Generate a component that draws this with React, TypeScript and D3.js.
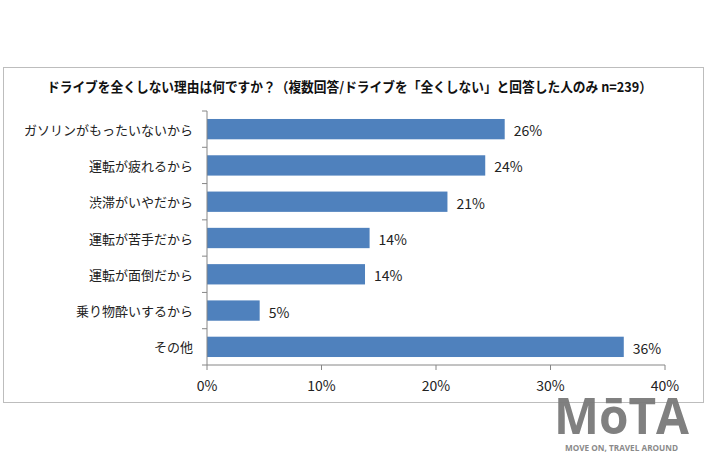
import React from "react";
import * as d3 from "d3";

const categories = [
  "ガソリンがもったいないから",
  "運転が疲れるから",
  "渋滞がいやだから",
  "運転が苦手だから",
  "運転が面倒だから",
  "乗り物酔いするから",
  "その他",
];
const values = [26.0, 24.3, 21.0, 14.2, 13.8, 4.6, 36.4];
const valueLabels = ["26%", "24%", "21%", "14%", "14%", "5%", "36%"];
const xTicks = [0, 10, 20, 30, 40];
const title =
  "ドライブを全くしない理由は何ですか？（複数回答/ドライブを「全くしない」と回答した人のみ n=239）";

const FONT = "'Noto Sans CJK JP', 'Noto Sans', sans-serif";

export default function App() {
  const x = d3.scaleLinear().domain([0, 40]).range([207, 665]);
  const y = d3
    .scaleBand<string>()
    .domain(categories)
    .range([111, 365])
    .paddingInner(0.44)
    .paddingOuter(0.22);
  const bandTicks = d3.range(categories.length + 1).map(
    (i) => 111 + (i * (365 - 111)) / categories.length
  );
  const axisColor = "#868686";
  return (
    <svg
      width={710}
      height={473}
      style={{ position: "absolute", left: 0, top: 0, background: "#fff" }}
      fontFamily={FONT}
    >
      <rect x={0} y={0} width={710} height={473} fill="#fff" />
      <rect x={3.5} y={67.5} width={700} height={335} fill="#fff" stroke="#bdbdbd" strokeWidth={1} />
      <text
        x={47}
        y={92}
        fontSize={13.5}
        fontWeight="bold"
        fill="#111"
        textLength={605}
        lengthAdjust="spacingAndGlyphs"
      >
        {title}
      </text>
      {categories.map((c, i) => (
        <g key={c}>
          <rect
            x={x(0)}
            y={y(c)!}
            width={x(values[i]) - x(0)}
            height={y.bandwidth()}
            fill="#4f81bd"
          />
          <text
            x={193}
            y={y(c)! + y.bandwidth() / 2}
            textAnchor="end"
            dominantBaseline="central"
            fontSize={13}
            fill="#222"
          >
            {c}
          </text>
          <text
            x={x(values[i]) + 9}
            y={y(c)! + y.bandwidth() / 2 + 1}
            dominantBaseline="central"
            fontSize={14}
            fill="#222"
          >
            {valueLabels[i]}
          </text>
        </g>
      ))}
      <line x1={x(0)} x2={x(0)} y1={111} y2={365} stroke={axisColor} />
      {bandTicks.map((t, i) => (
        <line key={i} x1={x(0) - 5} x2={x(0)} y1={t} y2={t} stroke={axisColor} />
      ))}
      <line x1={x(0)} x2={x(40)} y1={365} y2={365} stroke={axisColor} />
      {xTicks.map((t) => (
        <g key={t}>
          <line x1={x(t)} x2={x(t)} y1={365} y2={370} stroke={axisColor} />
          <text x={x(t)} y={391} textAnchor="middle" fontSize={14} fill="#222">
            {t}%
          </text>
        </g>
      ))}
      <text
        x={554}
        y={434}
        fontSize={50}
        fontWeight="bold"
        fill="#7a7a7a"
        fontFamily="'Open Sans', 'DejaVu Sans', sans-serif"
        textLength={135}
        lengthAdjust="spacingAndGlyphs"
        opacity={0.95}
      >
        MōTA
      </text>
      <text
        x={565}
        y={451}
        fontSize={8.5}
        fontWeight="bold"
        fill="#8a8a8a"
        fontFamily="'Open Sans', 'DejaVu Sans', sans-serif"
        textLength={113}
        lengthAdjust="spacingAndGlyphs"
      >
        MOVE ON, TRAVEL AROUND
      </text>
    </svg>
  );
}
